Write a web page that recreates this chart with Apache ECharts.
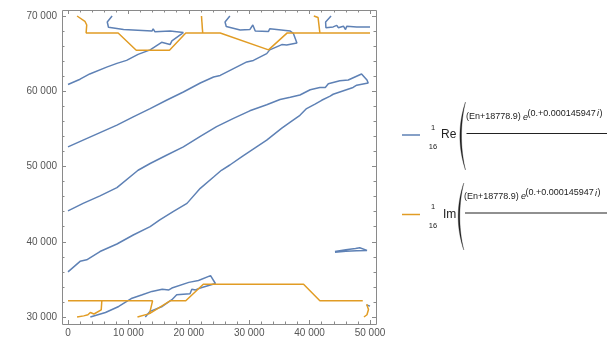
<!DOCTYPE html>
<html>
<head>
<meta charset="utf-8">
<script src="https://cdn.jsdelivr.net/npm/echarts@6/dist/echarts.min.js"></script>
<style>
html,body{margin:0;padding:0;background:#fff;}
#chart{width:616px;height:347px;}
</style>
</head>
<body>
<div id="chart"></div>
<script>
// ---- data ----
var xTicks = [0, 10000, 20000, 30000, 40000, 50000];
var xTickLabels = ['0', '10 000', '20 000', '30 000', '40 000', '50 000'];
var yTicks = [30000, 40000, 50000, 60000, 70000];
var yTickLabels = ['30 000', '40 000', '50 000', '60 000', '70 000'];
var xMinor = [2000,4000,6000,8000,12000,14000,16000,18000,22000,24000,26000,28000,32000,34000,36000,38000,42000,44000,46000,48000];
var yMinor = [32000,34000,36000,38000,42000,44000,46000,48000,52000,54000,56000,58000,62000,64000,66000,68000];

// Re contours (blue)
var re1 = [[0,60900],[2000,61600],[3600,62300],[6400,63200],[8100,63700],[9700,64100],[11600,64900],[13600,65500],[15500,66500],[16900,66200],[17200,66700],[19100,67800],[16900,68000],[14400,67900],[14100,68300],[13900,68000],[9200,68200],[6700,68500],[6500,69200],[7300,70000]];
var re2 = [[0,52600],[2500,53500],[5300,54500],[8100,55500],[10800,56600],[13600,57700],[16300,58800],[19100,59900],[21900,61100],[24100,61900],[25200,62100],[27400,63000],[29600,63900],[30700,64100],[32900,65000],[33400,65500],[35400,66200],[36200,66150],[37900,66400],[37300,67700],[36800,68000],[33400,68300],[33200,67950],[31000,68000],[30600,68800],[30100,68200],[28500,68150],[26200,68600],[26000,69200],[26800,70000]];
var re3 = [[0,44100],[2500,45100],[5300,46100],[8100,47200],[11600,49500],[13600,50400],[16300,51500],[19100,52600],[21900,54000],[24600,55300],[27400,56400],[30100,57400],[32900,58200],[35100,58900],[36800,59200],[38400,59500],[40100,60200],[41700,60500],[42600,60500],[43100,61000],[45000,61400],[46400,61500],[47500,61900],[48600,62300],[49500,61500],[49700,61100],[47800,60800],[47200,60500],[46100,60200],[43900,59600],[43400,59350],[42000,58800],[40900,58300],[39500,57700],[38400,56800],[36800,55900],[35400,55100],[32900,53500],[30100,52000],[28800,51300],[26800,50200],[25400,49500],[24100,48600],[21900,47100],[19700,45100],[17400,44000],[15200,42900],[13600,42000],[10800,40900],[8100,39700],[5300,38700],[3100,37600],[2000,37400],[0,36000]];
var re4 = [[3700,30000],[6200,30600],[8400,31400],[10600,32500],[12300,32950],[13900,33400],[15600,33700],[16700,33600],[17200,33850],[20000,34600],[21600,34850],[23600,35500],[24400,34450],[21900,33850],[21100,33600],[20500,33700],[20200,33100],[18000,32950],[17200,32300],[15600,31400],[13600,30750],[12800,30000]];
var re5 = [[44200,38700],[46000,38950],[47600,39100],[48300,39200],[49500,38850],[47800,38800],[46000,38750],[44200,38600]];
var re6 = [[49450,31600],[50000,31450]];
var re7 = [[43550,70000],[42650,69200],[42700,68450],[43900,68550],[44500,68750],[44750,68450],[45600,68650],[45950,68200],[46150,68650],[47800,68550],[50000,68550]];

// Im contours (orange)
var im1 = [[1500,70000],[2800,69300],[3100,68800],[3000,67750],[8300,67750],[11300,65450],[16800,65450],[19500,67750],[25200,67750],[33200,65500],[36300,67750],[50000,67750]];
var im2 = [[22100,70000],[22300,67750]];
var im3 = [[40700,70000],[41400,69800],[41700,67750]];
var im4 = [[0,32150],[14000,32150],[13500,30450],[11500,30000]];
var im5 = [[13500,30450],[16900,32150],[19500,32150],[22400,34350],[39000,34350],[41700,32150],[48800,32150]];
var im6 = [[5600,32150],[5500,30950],[4300,30400],[3700,30600],[3300,30300],[2600,30150],[1500,30000]];
var im7 = [[49450,31700],[49750,31000],[49500,30300],[49000,30000]];

var reCurves = [re1, re2, re3, re4, re5, re6, re7];
var imCurves = [im1, im2, im3, im4, im5, im6, im7];

// ---- chart ----
var BLUE = '#5e81b5', ORANGE = '#e19c24';
var FRAME = '#8a8a8a', LABEL = '#555';
var FONT = 'Liberation Sans, Arial, sans-serif';
var chart = echarts.init(document.getElementById('chart'));

function lbl(ticks, labels) {
  return function (v) {
    for (var i = 0; i < ticks.length; i++) if (Math.abs(ticks[i] - v) < 1e-6) return labels[i];
    return '';
  };
}
function ax(isX, pos, offset, showLabel) {
  return {
    type: 'value', position: pos, offset: offset,
    min: isX ? 0 : 30000, max: isX ? 50000 : 70000, interval: 10000,
    axisLine: {show: true, onZero: false, lineStyle: {color: FRAME, width: 1}},
    axisTick: {show: true, inside: true, length: 4, lineStyle: {color: FRAME, width: 1}},
    minorTick: {show: true, splitNumber: 5, length: 2.5, lineStyle: {color: FRAME, width: 1}},
    axisLabel: {show: showLabel, formatter: isX ? lbl(xTicks, xTickLabels) : lbl(yTicks, yTickLabels),
      color: LABEL, fontSize: 10, fontFamily: FONT, margin: isX ? 4 : 5},
    splitLine: {show: false}
  };
}

var series = [];
reCurves.forEach(function (c) {
  series.push({type: 'line', data: c, showSymbol: false, symbol: 'none', clip: false,
    lineStyle: {color: BLUE, width: 1.5}, itemStyle: {color: BLUE}});
});
imCurves.forEach(function (c) {
  series.push({type: 'line', data: c, showSymbol: false, symbol: 'none', clip: false,
    lineStyle: {color: ORANGE, width: 1.5}, itemStyle: {color: ORANGE}});
});

var TXT = '#222';
function t(x, y, s, size, extra) {
  var st = {text: s, fill: TXT, font: size + 'px ' + FONT, textVerticalAlign: 'middle', textAlign: 'left'};
  if (extra) for (var k in extra) st[k] = extra[k];
  return {type: 'text', x: x, y: y, style: st, silent: true};
}
function bez(p0, p1, p2, p3, s) {
  var u = 1 - s;
  return u*u*u*p0 + 3*u*u*s*p1 + 3*u*s*s*p2 + s*s*s*p3;
}
function paren(xe, top, bot, co, ci) {
  var pts = [], n = 24, i, s;
  for (i = 0; i <= n; i++) { s = i / n; pts.push([bez(xe, co, co, xe, s), bez(top, top + 22, bot - 22, bot, s)]); }
  for (i = n; i >= 0; i--) { s = i / n; pts.push([bez(xe, ci, ci, xe, s), bez(top, top + 22, bot - 22, bot, s)]); }
  return {type: 'polygon', shape: {points: pts}, style: {fill: '#222', stroke: '#222', lineWidth: 0.3}, silent: true};
}
function legendEntry(y, color, name, nameX, numX, pX, pTop, pBot, barX) {
  return [
    {type: 'line', shape: {x1: 402, y1: y, x2: 420, y2: y}, style: {stroke: color, lineWidth: 1.5}, silent: true},
    t(433, y - 7.5, '1', 7.5, {textAlign: 'center'}),
    t(433, y + 11.5, '16', 7.5, {textAlign: 'center'}),
    t(nameX, y, name, 12),
    paren(pX + 5.5, pTop, pBot, pX - 2, pX + 0.2),
    t(numX, y - 18, '(En+18778.9)', 9),
    t(numX + 57, y - 18, 'e', 9, {font: 'italic 9px ' + FONT}),
    t(numX + 61.5, y - 21.5, '(0.+0.000145947 ', 9),
    t(numX + 131, y - 21.5, 'i', 9, {font: 'italic 9px ' + FONT}),
    t(numX + 133.5, y - 21.5, ')', 9),
    {type: 'line', shape: {x1: barX, y1: y - 1.5, x2: 607, y2: y - 1.5}, style: {stroke: '#222', lineWidth: 1.2}, silent: true}
  ];
}
var graphics = [
  {type: 'polyline', shape: {points: [[62.5, 10.5], [376.5, 10.5], [376.5, 324.5], [62.5, 324.5], [62.5, 10.5]]}, style: {stroke: FRAME, lineWidth: 1, fill: null}, silent: true}
].concat(
  legendEntry(135, BLUE, 'Re', 441, 466, 460, 102, 170, 466.5),
  legendEntry(214.5, ORANGE, 'Im', 443, 464, 458.3, 183, 250, 465)
);

chart.setOption({
  animation: false,
  grid: {left: 68, top: 16, width: 302, height: 301},
  xAxis: [ax(true, 'bottom', 7, true), ax(true, 'top', 6, false)],
  yAxis: [ax(false, 'left', 6, true), ax(false, 'right', 6, false)],
  series: series,
  graphic: graphics
});

// Fallback: if the axis ticks did not render, draw them through the axes' scales with a custom series
(function () {
  var list = chart.getZr().storage.getDisplayList(true), n = 0;
  for (var i = 0; i < list.length; i++) {
    var el = list[i];
    if (el.shape && el.shape.x1 !== undefined && el.style && el.style.stroke === FRAME) {
      var len = Math.abs(el.shape.x2 - el.shape.x1) + Math.abs(el.shape.y2 - el.shape.y1);
      if (len <= 5) n++;
    }
  }
  if (n > 20) return;
  var tickData = [];
  xTicks.forEach(function (v) { tickData.push([v, 30000, 1, 0]); });
  xMinor.forEach(function (v) { tickData.push([v, 30000, 0, 0]); });
  yTicks.forEach(function (v) { tickData.push([0, v, 1, 1]); });
  yMinor.forEach(function (v) { tickData.push([0, v, 0, 1]); });
  series.push({
    type: 'custom', data: tickData, silent: true, clip: false,
    renderItem: function (params, api) {
      var L = api.value(2) ? 4 : 2.5, p = api.coord([api.value(0), api.value(1)]), st = {stroke: FRAME, lineWidth: 1};
      if (!api.value(3)) {
        var x = Math.round(p[0]) + 0.5;
        return {type: 'group', children: [
          {type: 'line', shape: {x1: x, y1: 324.5, x2: x, y2: 324.5 - L}, style: st},
          {type: 'line', shape: {x1: x, y1: 10.5, x2: x, y2: 10.5 + L}, style: st}]};
      }
      var y = Math.round(p[1]) + 0.5;
      return {type: 'group', children: [
        {type: 'line', shape: {x1: 62.5, y1: y, x2: 62.5 + L, y2: y}, style: st},
        {type: 'line', shape: {x1: 376.5, y1: y, x2: 376.5 - L, y2: y}, style: st}]};
    }
  });
  chart.setOption({series: series});
})();
</script>
</body>
</html>
